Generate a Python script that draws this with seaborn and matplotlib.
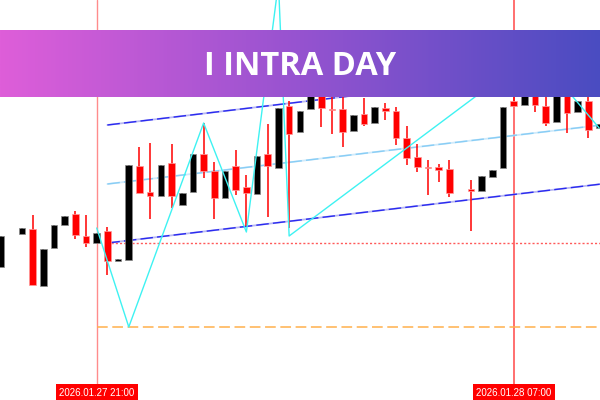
import matplotlib
matplotlib.use("Agg")
import numpy as np
import pandas as pd
import matplotlib.pyplot as plt
from matplotlib.colors import LinearSegmentedColormap
import matplotlib.transforms as mtransforms
import seaborn as sns

# candle data (index = bar number, prices)
idx = [0, 2, 3, 4, 5, 6, 7, 8, 9, 10,
       11, 12, 13, 14, 15, 16, 17, 18, 19, 20,
       21, 22, 23, 24, 25, 26, 27, 28, 29, 30,
       31, 32, 33, 34, 35, 36, 37, 38, 39, 40,
       41, 42, 44, 45, 46, 47, 48, 49, 50, 51,
       52, 53, 54, 55, 56]
opens = [5033, 5066, 5071, 5014, 5052, 5075, 5086, 5064, 5057, 5069,
         5039, 5040, 5134, 5108, 5104, 5137, 5095, 5108, 5146, 5129,
         5102, 5134, 5113, 5106, 5146, 5132, 5194, 5168, 5191, 5212,
         5191, 5191, 5169, 5186, 5177, 5192, 5189, 5162, 5143, 5133,
         5133, 5131, 5111, 5109, 5123, 5132, 5199, 5195, 5215, 5194,
         5178, 5215, 5188, 5199, 5172]
highs = [5064, 5072, 5085, 5051, 5075, 5084, 5089, 5085, 5067, 5073,
         5041, 5135, 5153, 5157, 5135, 5156, 5107, 5146, 5177, 5138,
         5129, 5150, 5125, 5144, 5176, 5192, 5199, 5189, 5220, 5212,
         5208, 5208, 5185, 5202, 5193, 5197, 5193, 5174, 5156, 5140,
         5136, 5140, 5120, 5124, 5130, 5193, 5215, 5210, 5215, 5205,
         5220, 5220, 5199, 5205, 5176]
lows = [5033, 5066, 5015, 5014, 5052, 5075, 5061, 5053, 5057, 5025,
        5039, 5040, 5107, 5081, 5104, 5092, 5095, 5108, 5122, 5081,
        5102, 5105, 5074, 5106, 5083, 5132, 5072, 5168, 5191, 5173,
        5166, 5153, 5169, 5174, 5177, 5180, 5155, 5135, 5128, 5105,
        5118, 5103, 5069, 5109, 5123, 5132, 5194, 5195, 5188, 5174,
        5178, 5167, 5188, 5162, 5172]
closes = [5064, 5072, 5015, 5051, 5075, 5084, 5065, 5057, 5067, 5039,
          5041, 5135, 5107, 5104, 5135, 5104, 5107, 5146, 5129, 5102,
          5129, 5110, 5107, 5144, 5134, 5192, 5166, 5189, 5220, 5192,
          5190, 5168, 5185, 5176, 5193, 5189, 5162, 5142, 5133, 5132,
          5130, 5107, 5109, 5124, 5130, 5193, 5194, 5210, 5195, 5177,
          5220, 5187, 5199, 5170, 5176]

# zigzag
zz_idx = [9, 12, 19, 23, 26, 27, 50, 56]
zz_price = [5072, 4973, 5177, 5068, 5317, 5064, 5248, 5172]

# regression channel
ch_idx = [10, 57]
ch_upper = [5175, 5235]
ch_mid = [5116, 5176]
ch_lower = [5057, 5117]

# horizontal levels
level_dotted = 5057
level_dotted_start = 10
level_dashed = 4973
level_dashed_start = 9

# session markers
marker_idx = [9, 48]
marker_labels = ["2026.01.27 21:00", "2026.01.28 07:00"]

title = "I INTRA DAY"

sns.set_theme(style="white")
plt.rcParams["font.family"] = ["DejaVu Sans"]

df = pd.DataFrame({"i": idx, "open": opens, "high": highs, "low": lows, "close": closes})
df["up"] = df["close"] >= df["open"]

fig = plt.figure(figsize=(6, 4), dpi=100)
ax = fig.add_axes([0, 0, 1, 1])
ax.set_xlim(-0.047, 56.08)
ax.set_ylim(4900, 5300)
ax.axis("off")

# session vertical lines
ax.axvline(marker_idx[0], color="#ff8c8c", lw=1.0, zorder=1)
ax.axvline(marker_idx[1], color="#ff4848", lw=1.1, zorder=1)

# levels
xmax = ax.get_xlim()[1]
ax.plot([level_dashed_start, xmax], [level_dashed] * 2, color="#ffb04c", lw=1.1,
        linestyle=(0, (7, 3)), zorder=2)
ax.plot([level_dotted_start, xmax], [level_dotted] * 2, color="#ff5a5a", lw=1.0,
        linestyle=(0, (1.5, 1.5)), zorder=2)

# channel
for ys, base, top in [(ch_upper, "#b8b8f2", "#2a2af0"), (ch_lower, "#b8b8f2", "#2a2af0"),
                      (ch_mid, "#cfeafb", "#88cdf5")]:
    ax.plot(ch_idx, ys, color=base, lw=1.3, zorder=3)
    ax.plot(ch_idx, ys, color=top, lw=1.0, linestyle=(0, (9, 3)), zorder=3)

# candles
w = 0.62
for up, col, edge in [(True, "black", "#8a8a8a"), (False, "#ff0000", "#ff9a9a")]:
    d = df[df["up"] == up]
    ax.vlines(d["i"], d["low"], d["high"], color=col, lw=1.1, zorder=4)
    body = (d["close"] - d["open"]).abs().clip(lower=1.2)
    bottom = d[["open", "close"]].min(axis=1)
    ax.bar(d["i"], body, bottom=bottom, width=w, color=col, edgecolor=edge,
           linewidth=0.5, zorder=5)

# zigzag
sns.lineplot(x=zz_idx, y=zz_price, ax=ax, color="#3ef2f2", lw=1.0,
             estimator=None, sort=False, zorder=6)

# date labels
trans = mtransforms.blended_transform_factory(ax.transData, ax.transAxes)
for xi, lab in zip(marker_idx, marker_labels):
    ax.text(xi, 0.018, lab, transform=trans, ha="center", va="center",
            fontsize=7, color="white", family="Liberation Sans", zorder=10,
            bbox=dict(boxstyle="square,pad=0.34", fc="#ff0000", ec="none"))

# banner
bax = fig.add_axes([0, 1 - 97 / 400, 1, 67 / 400])
cmap = LinearSegmentedColormap.from_list("banner", ["#de5ed9", "#9653d0", "#4a4cc1"])
bax.imshow(np.linspace(0, 1, 256).reshape(1, -1), aspect="auto", cmap=cmap,
           extent=[0, 1, 0, 1])
bax.set_xlim(0, 1)
bax.set_ylim(0, 1)
bax.axis("off")
bax.text(0.5, 0.45, title, color="white", fontsize=23.5, fontweight="bold",
         family="Open Sans", ha="center", va="center")

fig.savefig("out.png", dpi=100)
